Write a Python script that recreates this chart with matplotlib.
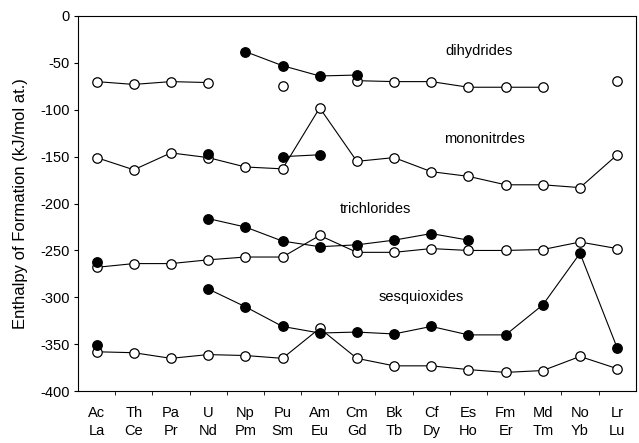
import numpy as np
import matplotlib
matplotlib.use("Agg")
import matplotlib.pyplot as plt

plt.rcParams['font.family'] = ['Liberation Sans', 'DejaVu Sans']
plt.rcParams['axes.unicode_minus'] = False

actinides = ["Ac", "Th", "Pa", "U", "Np", "Pu", "Am", "Cm", "Bk", "Cf", "Es", "Fm", "Md", "No", "Lr"]
lanthanides = ["La", "Ce", "Pr", "Nd", "Pm", "Sm", "Eu", "Gd", "Tb", "Dy", "Ho", "Er", "Tm", "Yb", "Lu"]

nan = np.nan

# lanthanide compounds (open symbols)
ln_dihydrides = [-70, -73, -70, -71, nan, -75, nan, -69, -70, -70, -76, -76, -76, nan, -69]
ln_nitrides = [-151, -164, -146, -151, -161, -163, -98, -155, -151, -166, -171, -180, -180, -183, -148]
ln_trichlorides = [-268, -264, -264, -260, -257, -257, -234, -252, -252, -248, -250, -250, -249, -241, -248]
ln_sesquioxides = [-358, -359, -365, -361, -362, -365, -333, -365, -373, -373, -377, -380, -378, -363, -376]

# actinide compounds (filled symbols)
an_dihydrides = [nan, nan, nan, nan, -38, -53, -64, -63, nan, nan, nan, nan, nan, nan, nan]
an_nitrides = [nan, nan, nan, -147, nan, -150, -148, nan, nan, nan, nan, nan, nan, nan, nan]
an_trichlorides = [-262, nan, nan, -216, -225, -240, -246, -244, -239, -232, -239, nan, nan, nan, nan]
an_sesquioxides = [-351, nan, nan, -291, -310, -331, -338, -337, -339, -331, -340, -340, -308, -253, -354]

x = np.arange(len(actinides))

fig = plt.figure(figsize=(6.39, 4.43), dpi=100)
ax = fig.add_axes([0.122, 0.117, 0.873, 0.847])

for ys in [ln_dihydrides, ln_nitrides, ln_trichlorides, ln_sesquioxides]:
    ax.plot(x, ys, color="black", lw=0.8, zorder=1)
    ax.plot(x, ys, "o", ms=6.8, mfc="white", mec="black", mew=0.9, ls="none", zorder=2)

for ys in [an_dihydrides, an_nitrides, an_trichlorides, an_sesquioxides]:
    ax.plot(x, ys, "o-", color="black", ms=6.8, mfc="black", mec="black", lw=0.8, zorder=3)

ax.text(10.28, -37, "dihydrides", fontsize=10.5, ha="center", va="center")
ax.text(10.44, -131, "mononitrdes", fontsize=10.5, ha="center", va="center")
ax.text(7.51, -206, "trichlorides", fontsize=10.5, ha="center", va="center")
ax.text(8.72, -300, "sesquioxides", fontsize=10.5, ha="center", va="center")

ax.set_xlim(-0.5, 14.5)
ax.set_ylim(-400, 0)
ax.set_yticks(np.arange(-400, 1, 50))
ax.set_xticks(x)
ax.set_xticklabels([f"{a}\n{l}" for a, l in zip(actinides, lanthanides)], linespacing=1.35)
ax.set_xticks(np.arange(0.5, 14, 1), minor=True)
ax.tick_params(axis="x", which="major", length=0, pad=11, labelsize=10.5)
ax.tick_params(axis="x", which="minor", length=3, direction="out")
ax.tick_params(axis="y", length=3, direction="out", labelsize=10.5, pad=3)
ax.set_ylabel("Enthalpy of Formation (kJ/mol at.)", fontsize=12, labelpad=9)

for s in ax.spines.values():
    s.set_linewidth(0.8)

fig.savefig("out.png", dpi=100)
